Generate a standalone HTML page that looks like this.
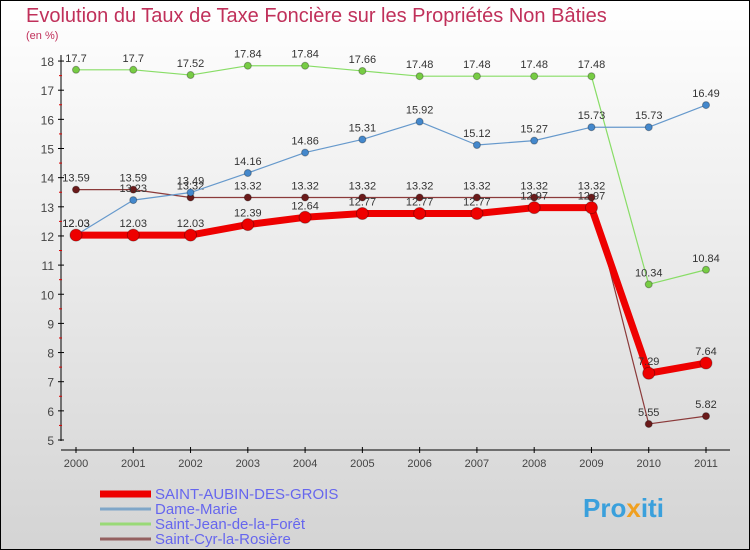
<!DOCTYPE html>
<html><head><meta charset="utf-8"><style>
body{margin:0;width:750px;height:550px;overflow:hidden;font-family:"Liberation Sans",sans-serif}
svg{display:block}
</style></head><body>
<svg id="c" width="750" height="550" xmlns="http://www.w3.org/2000/svg">
<defs><linearGradient id="bg" x1="0" y1="0" x2="0" y2="1"><stop offset="0" stop-color="#ffffff"/><stop offset="1" stop-color="#d4d4d4"/></linearGradient></defs>
<rect x="0.5" y="0.5" width="749" height="549" fill="url(#bg)" stroke="#000"/>
<text x="26" y="22" font-size="20" fill="#c0305a">Evolution du Taux de Taxe Foncière sur les Propriétés Non Bâties</text>
<text x="26" y="39" font-size="11" fill="#c0305a">(en %)</text>
<g id="axes"></g><g id="series"></g><g id="legend"></g>
<text x="583" y="517" font-size="26" font-weight="bold" fill="#3aa0dc">Pro<tspan fill="#f0a020">x</tspan>iti</text>
</svg>
<script>
const years=[2000,2001,2002,2003,2004,2005,2006,2007,2008,2009,2010,2011];
const yTicks=[5,6,7,8,9,10,11,12,13,14,15,16,17,18];
const saintAubin=[12.03,12.03,12.03,12.39,12.64,12.77,12.77,12.77,12.97,12.97,7.29,7.64];
const dameMarie=[12.03,13.23,13.49,14.16,14.86,15.31,15.92,15.12,15.27,15.73,15.73,16.49];
const saintJean=[17.7,17.7,17.52,17.84,17.84,17.66,17.48,17.48,17.48,17.48,10.34,10.84];
const saintCyr=[13.59,13.59,13.32,13.32,13.32,13.32,13.32,13.32,13.32,13.32,5.55,5.82];
const seriesNames=["SAINT-AUBIN-DES-GROIS","Dame-Marie","Saint-Jean-de-la-Forêt","Saint-Cyr-la-Rosière"];
const NS="http://www.w3.org/2000/svg";
const x=i=>76+i*(630/11);
const y=v=>440-(v-5)*29.15;
function mk(t,a,p){const e=document.createElementNS(NS,t);for(const k in a)e.setAttribute(k,a[k]);p.appendChild(e);return e;}
const ax=document.getElementById('axes');
let l=mk('line',{x1:61,y1:55,x2:61,y2:441,stroke:'#000'},ax);


l=mk('line',{x1:61,y1:450,x2:730,y2:450,stroke:'#000'},ax);


yTicks.forEach(v=>{
 mk('line',{x1:58,y1:y(v),x2:64,y2:y(v),stroke:'#000'},ax);
 if(v<18)mk('line',{x1:59,y1:y(v+0.5),x2:62,y2:y(v+0.5),stroke:'#d00'},ax);
 const t=mk('text',{x:54,y:y(v)+5,'font-size':12,fill:'#444','text-anchor':'end'},ax);t.textContent=v;
 
 
});
years.forEach((yr,i)=>{
 mk('line',{x1:x(i),y1:447,x2:x(i),y2:453,stroke:'#000'},ax);
 const t=mk('text',{x:x(i),y:467,'font-size':11,fill:'#444','text-anchor':'middle'},ax);t.textContent=yr;
 
 
});
const sg=document.getElementById('series');
function draw(vals,color,w,r,dot,name,labelColor){
 const g=mk('g',{},sg);
 
 
 mk('polyline',{points:vals.map((v,i)=>x(i)+','+y(v)).join(' '),fill:'none',stroke:color,'stroke-width':w,'stroke-linejoin':'round'},g);
 vals.forEach((v,i)=>{
  const c=mk('circle',{cx:x(i),cy:y(v),r:r,fill:dot,stroke:'rgba(0,0,0,0.3)','stroke-width':1},g);
  
  
  const t=mk('text',{x:x(i),y:y(v)-8,'font-size':11,fill:labelColor,'text-anchor':'middle'},g);t.textContent=v;
 });
}
draw(saintCyr,'#8b3a3a',1.2,3.5,'#6b1a1a','series-saint-cyr','#333');
draw(saintJean,'#88dd66',1.2,3.5,'#77cc44','series-saint-jean','#333');
draw(dameMarie,'#6699cc',1.2,3.5,'#4488cc','series-dame-marie','#333');
draw(saintAubin,'#ee0000',7,6,'#ee0000','series-saint-aubin','#333');
const lg=document.getElementById('legend');
const lc=['#ee0000','#7fa6c8','#99d977','#946060'],lw=[7,3,3,3];
seriesNames.forEach((n,i)=>{
 const g=mk('g',{},lg);
 
 
 const yy=493+i*15;
 mk('line',{x1:100,y1:yy+1,x2:151,y2:yy+1,stroke:lc[i],'stroke-width':lw[i]},g);
 const t=mk('text',{x:155,y:yy+6,'font-size':15,fill:'#6666ee'},g);t.textContent=n;
});
</script>
</body></html>
